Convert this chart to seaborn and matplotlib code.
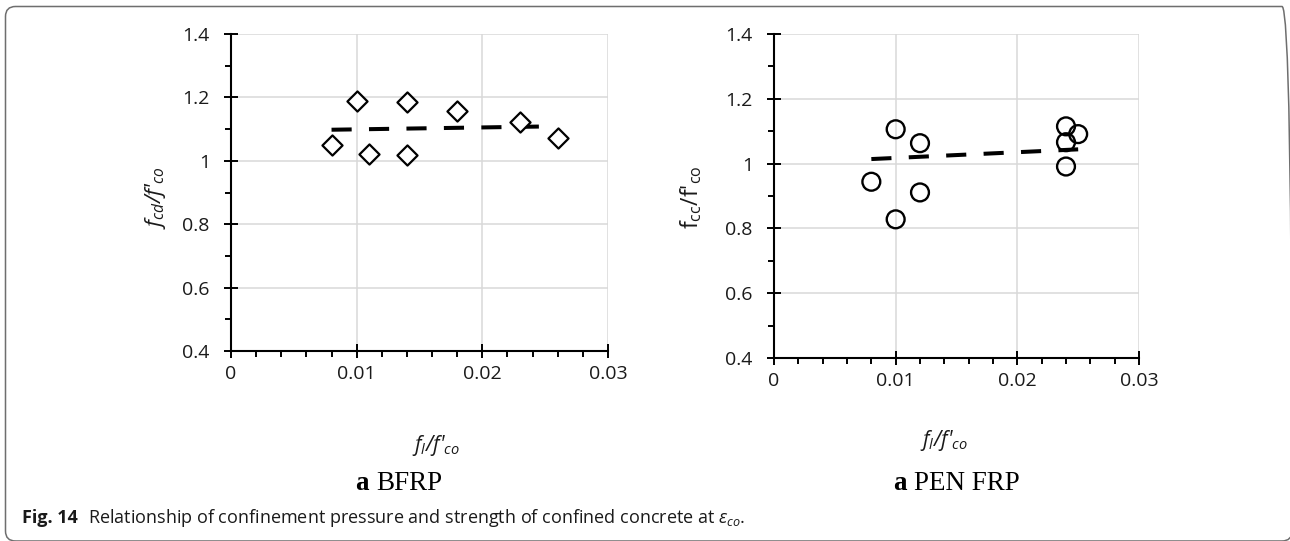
import matplotlib
matplotlib.use("Agg")
import matplotlib.pyplot as plt
from matplotlib.patches import FancyBboxPatch
from matplotlib.ticker import FixedLocator, FixedFormatter, MultipleLocator
import pandas as pd
import seaborn as sns

# BFRP-confined specimens: lateral confinement ratio vs. strength ratio
bfrp_ratio = [0.008, 0.010, 0.011, 0.014, 0.014, 0.018, 0.023, 0.026]
bfrp_strength = [1.049, 1.189, 1.023, 1.184, 1.018, 1.158, 1.121, 1.071]
bfrp_trend_x = [0.008, 0.0245]
bfrp_trend_y = [1.098, 1.108]

# PEN FRP-confined specimens
pen_ratio = [0.008, 0.010, 0.010, 0.012, 0.012, 0.024, 0.024, 0.024, 0.025]
pen_strength = [0.944, 1.106, 0.828, 1.063, 0.911, 1.115, 1.066, 0.991, 1.091]
pen_trend_x = [0.008, 0.025]
pen_trend_y = [1.014, 1.044]

x_ticks = [0, 0.01, 0.02, 0.03]
x_tick_labels = ["0", "0.01", "0.02", "0.03"]
y_ticks = [0.4, 0.6, 0.8, 1.0, 1.2, 1.4]
y_tick_labels = ["0.4", "0.6", "0.8", "1", "1.2", "1.4"]

sns.set_style("white")
plt.rcParams["font.family"] = ["Open Sans", "DejaVu Sans"]
plt.rcParams["mathtext.fontset"] = "custom"
plt.rcParams["mathtext.rm"] = "Open Sans"
plt.rcParams["mathtext.it"] = "Open Sans:italic"
plt.rcParams["mathtext.bf"] = "Open Sans:bold"

TXT = "#1a1a1a"
W, H = 1290, 541

fig = plt.figure(figsize=(W / 100, H / 100), dpi=100)
renderer = fig.canvas.get_renderer()


def px_box(left, top, right, bottom):
    return [left / W, 1 - bottom / H, (right - left) / W, (bottom - top) / H]


ax1 = fig.add_axes(px_box(231, 34, 608, 351))
ax2 = fig.add_axes(px_box(774, 34, 1139, 358))


def style_axis(ax):
    ax.set_xlim(0, 0.03)
    ax.set_ylim(0.4, 1.4)
    ax.xaxis.set_major_locator(FixedLocator(x_ticks))
    ax.xaxis.set_major_formatter(FixedFormatter(x_tick_labels))
    ax.yaxis.set_major_locator(FixedLocator(y_ticks))
    ax.yaxis.set_major_formatter(FixedFormatter(y_tick_labels))
    ax.xaxis.set_minor_locator(MultipleLocator(0.002))
    ax.yaxis.set_minor_locator(MultipleLocator(0.1))
    ax.grid(True, which="major", color="#d9d9d9", linewidth=1.1)
    ax.set_axisbelow(True)
    for side in ("top", "right"):
        ax.spines[side].set_visible(False)
    for side in ("left", "bottom"):
        ax.spines[side].set_color("black")
        ax.spines[side].set_linewidth(1.5)
    ax.tick_params(which="major", direction="inout", length=10.5, width=1.4,
                   color="black", labelsize=14, labelcolor=TXT)
    ax.tick_params(which="minor", direction="out", length=4.5, width=1.4,
                   color="black")
    ax.tick_params(axis="y", which="major", pad=10)
    ax.tick_params(axis="x", which="major", pad=5)
    ax.tick_params(which="both", left=True, bottom=True)
    ax.set_xlabel("")
    ax.set_ylabel("")


df_b = pd.DataFrame({"ratio": bfrp_ratio, "strength": bfrp_strength})
df_p = pd.DataFrame({"ratio": pen_ratio, "strength": pen_strength})
tr_b = pd.DataFrame({"ratio": bfrp_trend_x, "strength": bfrp_trend_y})
tr_p = pd.DataFrame({"ratio": pen_trend_x, "strength": pen_trend_y})

dash = (0, (5.0, 4.3))

sns.lineplot(data=tr_b, x="ratio", y="strength", ax=ax1, color="black",
             linewidth=2.9, linestyle=dash, dash_capstyle="butt", zorder=2)
sns.scatterplot(data=df_b, x="ratio", y="strength", ax=ax1, marker="D",
                s=105, facecolor="white", edgecolor="black", linewidth=1.6,
                zorder=3)

sns.lineplot(data=tr_p, x="ratio", y="strength", ax=ax2, color="black",
             linewidth=2.9, linestyle=dash, dash_capstyle="butt", zorder=2)
sns.scatterplot(data=df_p, x="ratio", y="strength", ax=ax2, marker="o",
                s=165, facecolor="none", edgecolor="black", linewidth=1.7,
                zorder=3)

style_axis(ax1)
style_axis(ax2)

# Axis titles
fig.text(155 / W, 1 - 198 / H, r"$f_{cd}$/$f$'$_{co}$", rotation=90,
         ha="center", va="center", fontsize=16, color=TXT, style="italic")
fig.text(691 / W, 1 - 197 / H,
         r"$\mathregular{f_{cc}}$/f'$\mathregular{_{co}}$", rotation=90,
         ha="center", va="center", fontsize=16.5, color=TXT)
fig.text(460 / W, 1 - 451 / H, r"$f_l$/$f$'$_{co}$", ha="right",
         va="baseline", fontsize=15, color=TXT, style="italic")
fig.text(968 / W, 1 - 446 / H, r"$f_l$/$f$'$_{co}$", ha="right",
         va="baseline", fontsize=15, color=TXT, style="italic")

# Panel captions: bold serif letter followed by the material name
serif = ["Liberation Serif", "DejaVu Serif"]
cap_y = 1 - 490 / H
cap_size = 19.5
t_name = fig.text(442 / W, cap_y, "BFRP", ha="right", va="baseline",
                  fontsize=cap_size, family=serif, color="black")
bb = t_name.get_window_extent(renderer)
fig.text((bb.x0 - 7) / W, cap_y, "a", ha="right", va="baseline",
         fontsize=cap_size, family=serif, weight="bold", color="black")

t_a = fig.text(893 / W, cap_y, "a", ha="left", va="baseline",
               fontsize=cap_size, family=serif, weight="bold", color="black")
bb = t_a.get_window_extent(renderer)
fig.text((bb.x1 + 7) / W, cap_y, "PEN FRP", ha="left", va="baseline",
         fontsize=cap_size, family=serif, color="black")

# Figure caption
t_bold = fig.text(22 / W, 1 - 523 / H, "Fig. 14", ha="left", va="baseline",
                  fontsize=13, weight="bold", color=TXT)
bb = t_bold.get_window_extent(renderer)
fig.text((bb.x1 + 10) / W, 1 - 523 / H,
         r"Relationship of confinement pressure and strength of confined "
         r"concrete at $\varepsilon_{co}$.",
         ha="left", va="baseline", fontsize=13, color=TXT)

# Rounded frame around the figure
frame = FancyBboxPatch((5.5 / 100, (H - 541.0) / 100),
                       (1292.0 - 5.5) / 100, (541.0 - 6.5) / 100,
                       boxstyle="round,pad=0,rounding_size=0.1",
                       transform=fig.dpi_scale_trans, facecolor="none",
                       edgecolor="#6e6e6e", linewidth=1.1, clip_on=False)
fig.patches.append(frame)

fig.savefig("out.png", dpi=100)
